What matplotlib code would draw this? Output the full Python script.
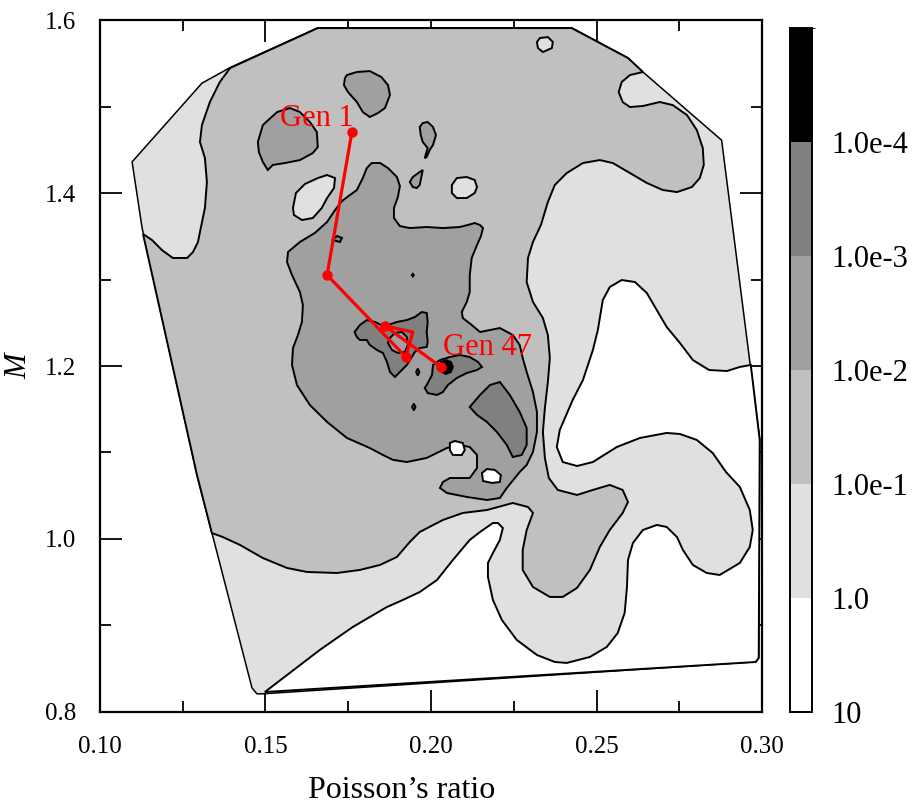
import numpy as np
import matplotlib
matplotlib.use('Agg')
import matplotlib.pyplot as plt
from matplotlib.colors import ListedColormap, BoundaryNorm
from matplotlib.cm import ScalarMappable

plt.rcParams['font.family'] = ['Liberation Serif', 'DejaVu Serif']

# misfit bands (-log10 of misfit), labels and grey shades
band_edges = [-1, 0, 1, 2, 3, 4, 5]
band_labels = ['10', '1.0', '1.0e-1', '1.0e-2', '1.0e-3', '1.0e-4']
band_colors = ['#ffffff', '#e0e0e0', '#c0c0c0', '#a0a0a0', '#808080', '#000000']

# sampled region (convex hull of the search points)
hull = [(0.1097, 1.436), (0.1127, 1.360), (0.1293, 1.074), (0.1459, 0.828),
        (0.1474, 0.821), (0.1492, 0.821), (0.2981, 0.858), (0.2990, 0.863),
        (0.2993, 1.115), (0.2878, 1.461), (0.2631, 1.543), (0.2595, 1.556),
        (0.2425, 1.591), (0.1658, 1.591), (0.1393, 1.545), (0.1308, 1.527)]

# contour bands: misfit > 1
white_big = [(0.2540, 1.2913), (0.2576, 1.2994), (0.2616, 1.2971), (0.2652, 1.2844),
             (0.2682, 1.2647), (0.2712, 1.2451), (0.2752, 1.2266), (0.2791, 1.2069),
             (0.2840, 1.1954), (0.2894, 1.1942), (0.2933, 1.1989), (0.2966, 1.2012),
             (0.2993, 1.1145), (0.2990, 0.8625), (0.2981, 0.8578), (0.1498, 0.8231),
             (0.1664, 0.8717), (0.1716, 0.8856), (0.1764, 0.8983), (0.1815, 0.9098),
             (0.1867, 0.9214), (0.1915, 0.9295), (0.1966, 0.9387), (0.2018, 0.9526),
             (0.2066, 0.9757), (0.2117, 0.9989), (0.2148, 1.0081), (0.2187, 1.0185),
             (0.2202, 1.0185), (0.2217, 1.0127), (0.2208, 0.9989), (0.2187, 0.9838),
             (0.2172, 0.9723), (0.2172, 0.9561), (0.2187, 0.9295), (0.2214, 0.9064),
             (0.2259, 0.8833), (0.2320, 0.8659), (0.2374, 0.8578), (0.2410, 0.8567),
             (0.2480, 0.8636), (0.2531, 0.8752), (0.2564, 0.8913), (0.2585, 0.9145),
             (0.2592, 0.9445), (0.2595, 0.9757), (0.2610, 0.9954), (0.2640, 1.0104),
             (0.2682, 1.0162), (0.2712, 1.0139), (0.2743, 1.0023), (0.2761, 0.9873),
             (0.2791, 0.9700), (0.2833, 0.9607), (0.2872, 0.9584), (0.2933, 0.9723),
             (0.2963, 0.9908), (0.2972, 1.0104), (0.2963, 1.0335), (0.2933, 1.0601),
             (0.2891, 1.0775), (0.2851, 1.0994), (0.2803, 1.1145), (0.2752, 1.1214),
             (0.2712, 1.1226), (0.2631, 1.1168), (0.2561, 1.1063), (0.2489, 1.0890),
             (0.2441, 1.0844), (0.2398, 1.0890), (0.2380, 1.1063), (0.2389, 1.1260),
             (0.2428, 1.1607), (0.2459, 1.1838), (0.2489, 1.2185), (0.2504, 1.2416),
             (0.2519, 1.2763)]

# misfit 1e-2 .. 1e-1
mid_big = [(0.1393, 1.5445), (0.1658, 1.5907), (0.2425, 1.5907), (0.2595, 1.5561),
           (0.2631, 1.5433), (0.2640, 1.5399), (0.2601, 1.5364), (0.2576, 1.5283),
           (0.2567, 1.5168), (0.2579, 1.5052), (0.2601, 1.4994), (0.2640, 1.5006),
           (0.2691, 1.5052), (0.2730, 1.5017), (0.2773, 1.4902), (0.2803, 1.4728),
           (0.2821, 1.4520), (0.2824, 1.4324), (0.2812, 1.4173), (0.2788, 1.4069),
           (0.2743, 1.4011), (0.2700, 1.4035), (0.2652, 1.4116), (0.2601, 1.4231),
           (0.2549, 1.4347), (0.2510, 1.4381), (0.2459, 1.4347), (0.2410, 1.4231),
           (0.2374, 1.4093), (0.2353, 1.3896), (0.2332, 1.3630), (0.2308, 1.3434),
           (0.2293, 1.3249), (0.2289, 1.2971), (0.2308, 1.2740), (0.2338, 1.2555),
           (0.2353, 1.2359), (0.2359, 1.2093), (0.2353, 1.1815), (0.2344, 1.1515),
           (0.2338, 1.1237), (0.2344, 1.0937), (0.2356, 1.0705), (0.2383, 1.0567),
           (0.2441, 1.0509), (0.2489, 1.0567), (0.2540, 1.0625), (0.2579, 1.0567),
           (0.2595, 1.0428), (0.2579, 1.0301), (0.2540, 1.0104), (0.2510, 0.9908),
           (0.2480, 0.9642), (0.2441, 0.9434), (0.2398, 0.9330), (0.2359, 0.9330),
           (0.2308, 0.9445), (0.2277, 0.9642), (0.2277, 0.9873), (0.2289, 1.0104),
           (0.2308, 1.0301), (0.2293, 1.0370), (0.2247, 1.0416), (0.2169, 1.0335),
           (0.2096, 1.0301), (0.2036, 1.0220), (0.1966, 1.0081), (0.1936, 0.9966),
           (0.1897, 0.9792), (0.1846, 0.9700), (0.1785, 0.9642), (0.1716, 0.9607),
           (0.1625, 0.9619), (0.1565, 0.9665), (0.1492, 0.9780), (0.1423, 0.9931),
           (0.1371, 1.0023), (0.1338, 1.0069), (0.1293, 1.0740), (0.1130, 1.3526),
           (0.1157, 1.3457), (0.1187, 1.3341), (0.1220, 1.3249), (0.1263, 1.3249),
           (0.1281, 1.3318), (0.1296, 1.3434), (0.1302, 1.3549), (0.1317, 1.3827),
           (0.1323, 1.4127), (0.1317, 1.4404), (0.1302, 1.4590), (0.1308, 1.4786),
           (0.1332, 1.5052), (0.1362, 1.5283)]

# islands of misfit 0.1 .. 1 inside the mid band
light_a = [(0.1583, 1.3827), (0.1592, 1.4000), (0.1619, 1.4104), (0.1658, 1.4173),
           (0.1686, 1.4208), (0.1710, 1.4173), (0.1707, 1.4058), (0.1686, 1.3942),
           (0.1670, 1.3827), (0.1643, 1.3711), (0.1610, 1.3688), (0.1586, 1.3746)]
light_b = [(0.2063, 1.4093), (0.2078, 1.4173), (0.2108, 1.4185), (0.2132, 1.4150),
           (0.2139, 1.4069), (0.2132, 1.4000), (0.2108, 1.3942), (0.2078, 1.3942),
           (0.2063, 1.4000)]
light_c = [(0.2320, 1.5746), (0.2329, 1.5792), (0.2353, 1.5803), (0.2368, 1.5746),
           (0.2365, 1.5676), (0.2338, 1.5630), (0.2323, 1.5676)]

# misfit 1e-3 .. 1e-2
dark_a = [(0.1477, 1.4590), (0.1492, 1.4786), (0.1535, 1.4936), (0.1574, 1.4983),
          (0.1604, 1.4936), (0.1634, 1.4821), (0.1655, 1.4705), (0.1658, 1.4532),
          (0.1643, 1.4462), (0.1604, 1.4381), (0.1559, 1.4347), (0.1522, 1.4324),
          (0.1507, 1.4266), (0.1492, 1.4358), (0.1480, 1.4474)]
dark_b = [(0.1740, 1.5329), (0.1746, 1.5364), (0.1776, 1.5399), (0.1815, 1.5410),
          (0.1850, 1.5341), (0.1870, 1.5248), (0.1876, 1.5133), (0.1861, 1.4983),
          (0.1840, 1.4925), (0.1815, 1.4879), (0.1794, 1.4936), (0.1776, 1.5052),
          (0.1749, 1.5168), (0.1737, 1.5248)]
dark_c = [(0.1966, 1.4763), (0.1975, 1.4809), (0.1990, 1.4821), (0.2006, 1.4763),
          (0.2015, 1.4670), (0.2006, 1.4555), (0.1996, 1.4497), (0.1987, 1.4416),
          (0.1981, 1.4404), (0.1990, 1.4520), (0.1975, 1.4590), (0.1969, 1.4670)]
dark_d = [(0.1936, 1.4127), (0.1945, 1.4185), (0.1966, 1.4243), (0.1975, 1.4266),
          (0.1972, 1.4208), (0.1966, 1.4093), (0.1957, 1.4058), (0.1945, 1.4069)]
dark_big = [(0.1568, 1.3318), (0.1604, 1.3434), (0.1649, 1.3538), (0.1686, 1.3665),
            (0.1710, 1.3803), (0.1731, 1.3907), (0.1755, 1.3977), (0.1776, 1.4035),
            (0.1794, 1.4173), (0.1806, 1.4289), (0.1821, 1.4347), (0.1846, 1.4347),
            (0.1870, 1.4289), (0.1897, 1.4185), (0.1906, 1.4081), (0.1900, 1.3954),
            (0.1888, 1.3827), (0.1888, 1.3711), (0.1906, 1.3618), (0.1936, 1.3595),
            (0.1987, 1.3607), (0.2036, 1.3595), (0.2087, 1.3607), (0.2111, 1.3630),
            (0.2132, 1.3653), (0.2148, 1.3630), (0.2157, 1.3595), (0.2151, 1.3503),
            (0.2139, 1.3399), (0.2123, 1.3249), (0.2117, 1.3052), (0.2117, 1.2855),
            (0.2108, 1.2740), (0.2093, 1.2624), (0.2096, 1.2555), (0.2123, 1.2474),
            (0.2148, 1.2393), (0.2208, 1.2439), (0.2247, 1.2359), (0.2268, 1.2243),
            (0.2277, 1.2093), (0.2289, 1.1931), (0.2308, 1.1699), (0.2320, 1.1468),
            (0.2320, 1.1237), (0.2308, 1.1006), (0.2289, 1.0856), (0.2268, 1.0775),
            (0.2229, 1.0590), (0.2208, 1.0474), (0.2169, 1.0451), (0.2108, 1.0486),
            (0.2048, 1.0532), (0.2027, 1.0590), (0.2036, 1.0659), (0.2057, 1.0705),
            (0.2117, 1.0705), (0.2139, 1.0821), (0.2139, 1.0971), (0.2117, 1.1063),
            (0.2087, 1.1087), (0.2048, 1.1052), (0.1987, 1.0937), (0.1927, 1.0890),
            (0.1885, 1.0915), (0.1855, 1.0971), (0.1815, 1.1052), (0.1746, 1.1168),
            (0.1686, 1.1353), (0.1634, 1.1549), (0.1595, 1.1780), (0.1580, 1.2012),
            (0.1583, 1.2208), (0.1598, 1.2359), (0.1610, 1.2509), (0.1613, 1.2705),
            (0.1604, 1.2855), (0.1580, 1.3052), (0.1565, 1.3202)]

# small islands of misfit > 1
white_a = [(0.2057, 1.1110), (0.2072, 1.1133), (0.2096, 1.1110), (0.2102, 1.1029),
           (0.2093, 1.0971), (0.2066, 1.0971), (0.2057, 1.1029)]
white_b = [(0.2154, 1.0763), (0.2169, 1.0809), (0.2193, 1.0798), (0.2211, 1.0740),
           (0.2208, 1.0659), (0.2184, 1.0648), (0.2157, 1.0671)]

# misfit 1e-4 .. 1e-3
deep_a = [(0.1769, 1.2393), (0.1785, 1.2474), (0.1806, 1.2531), (0.1831, 1.2509),
          (0.1850, 1.2474), (0.1870, 1.2474), (0.1897, 1.2509), (0.1927, 1.2531),
          (0.1951, 1.2566), (0.1972, 1.2624), (0.1987, 1.2613), (0.1990, 1.2509),
          (0.1987, 1.2393), (0.1990, 1.2278), (0.1987, 1.2220), (0.1966, 1.2208),
          (0.1951, 1.2162), (0.1942, 1.2104), (0.1927, 1.2012), (0.1912, 1.1954),
          (0.1891, 1.1873), (0.1876, 1.1931), (0.1867, 1.2046), (0.1855, 1.2150),
          (0.1837, 1.2185), (0.1815, 1.2243), (0.1806, 1.2301), (0.1785, 1.2301),
          (0.1776, 1.2335)]
deep_b = [(0.1987, 1.1780), (0.2003, 1.1896), (0.2006, 1.2012), (0.2027, 1.2069),
          (0.2057, 1.2104), (0.2087, 1.2127), (0.2117, 1.2104), (0.2142, 1.2046),
          (0.2154, 1.1989), (0.2139, 1.1954), (0.2108, 1.1919), (0.2078, 1.1861),
          (0.2051, 1.1780), (0.2036, 1.1699), (0.2018, 1.1665), (0.1990, 1.1687),
          (0.1981, 1.1746)]
deep_c = [(0.2117, 1.1526), (0.2148, 1.1665), (0.2178, 1.1780), (0.2208, 1.1815),
          (0.2238, 1.1665), (0.2268, 1.1468), (0.2289, 1.1284), (0.2289, 1.1087),
          (0.2274, 1.0971), (0.2247, 1.0948), (0.2229, 1.1087), (0.2199, 1.1237),
          (0.2169, 1.1353), (0.2139, 1.1434)]
deep_dots = [[(0.1701, 1.3457), (0.1716, 1.3503), (0.1731, 1.3480), (0.1725, 1.3434)],
             [(0.1942, 1.3050), (0.1945, 1.3065), (0.1948, 1.3050), (0.1945, 1.3035)],
             [(0.1955, 1.1930), (0.1960, 1.1970), (0.1965, 1.1930), (0.1960, 1.1890)],
             [(0.1943, 1.1526), (0.1948, 1.1566), (0.1953, 1.1526), (0.1948, 1.1486)]]
deep_hole = [(0.1876, 1.2324), (0.1891, 1.2382), (0.1912, 1.2393), (0.1927, 1.2335),
             (0.1930, 1.2243), (0.1921, 1.2162), (0.1900, 1.2150), (0.1882, 1.2185),
             (0.1870, 1.2266)]

# misfit < 1e-4
best = [(0.2030, 1.2046), (0.2045, 1.2069), (0.2060, 1.2046), (0.2066, 1.1989),
        (0.2060, 1.1931), (0.2045, 1.1908), (0.2033, 1.1931), (0.2027, 1.1989)]

# (band index, outline) in drawing order
regions = [(1, hull), (0, white_big), (2, mid_big),
           (1, light_a), (1, light_b), (1, light_c),
           (3, dark_a), (3, dark_b), (3, dark_c), (3, dark_d), (3, dark_big),
           (0, white_a), (0, white_b),
           (4, deep_a), (4, deep_b), (4, deep_c)] + [(4, d) for d in deep_dots] + \
          [(3, deep_hole), (5, best)]

# best model of each generation
gen_x = [0.1761, 0.1686, 0.1924, 0.1945, 0.1861, 0.2030]
gen_y = [1.4705, 1.3052, 1.2104, 1.2393, 1.2463, 1.1989]
gen_marked = [0, 1, 2, 4, 5]

cmap = ListedColormap(band_colors)
norm = BoundaryNorm(band_edges, cmap.N)

fig = plt.figure(figsize=(9.19, 8.11), dpi=100)
ax = fig.add_axes([0.1088, 0.1221, 0.7204, 0.8532])
cax = fig.add_axes([0.8596, 0.1221, 0.0239, 0.8434])

for k, (band, poly) in enumerate(regions):
    px, py = zip(*poly)
    lw = 1.1 if k == 0 else 1.4
    ax.fill(px, py, facecolor=cmap(norm(band - 0.5)), edgecolor='black',
            linewidth=lw, zorder=2 + k * 0.01)

ax.plot(gen_x, gen_y, '-', color='red', lw=2.3, zorder=5)
ax.plot([gen_x[i] for i in gen_marked], [gen_y[i] for i in gen_marked], 'o',
        color='red', ms=6.5, zorder=6)
ax.annotate('Gen 1', (gen_x[0], gen_y[0]), xytext=(1, 4), textcoords='offset points',
            ha='right', va='baseline', color='red', fontsize=22, zorder=7)
ax.annotate('Gen 47', (gen_x[-1], gen_y[-1]), xytext=(1.5, 8.5), textcoords='offset points',
            ha='left', va='baseline', color='red', fontsize=22, zorder=7)

ax.set_xlim(0.10, 0.30)
ax.set_ylim(0.8, 1.6)
ax.set_xticks(np.arange(0.10, 0.301, 0.05))
ax.set_xticks(np.arange(0.10, 0.301, 0.025), minor=True)
ax.set_yticks(np.arange(0.8, 1.61, 0.2))
ax.set_yticks(np.arange(0.8, 1.61, 0.1), minor=True)
ax.xaxis.set_major_formatter(plt.FormatStrFormatter('%.2f'))
ax.yaxis.set_major_formatter(plt.FormatStrFormatter('%.1f'))
ax.tick_params(which='both', direction='in', top=True, right=True, width=1.3,
               labelsize=18)
ax.tick_params(which='major', length=16, pad=17)
ax.tick_params(which='minor', length=8)
for s in ax.spines.values():
    s.set_linewidth(1.6)

ax.set_xlabel('Poisson\u2019s ratio', fontsize=23)
ax.xaxis.set_label_coords(0.456, -0.092)
ax.set_ylabel('M', fontsize=22, style='italic')
ax.yaxis.set_label_coords(-0.1, 0.5)

sm = ScalarMappable(norm=norm, cmap=cmap)
cb = fig.colorbar(sm, cax=cax, ticks=band_edges[:-1])
cb.ax.set_yticklabels(band_labels)
cb.ax.tick_params(length=0, pad=14, labelsize=22)
cb.outline.set_linewidth(1.4)

fig.savefig('out.png', dpi=100)
